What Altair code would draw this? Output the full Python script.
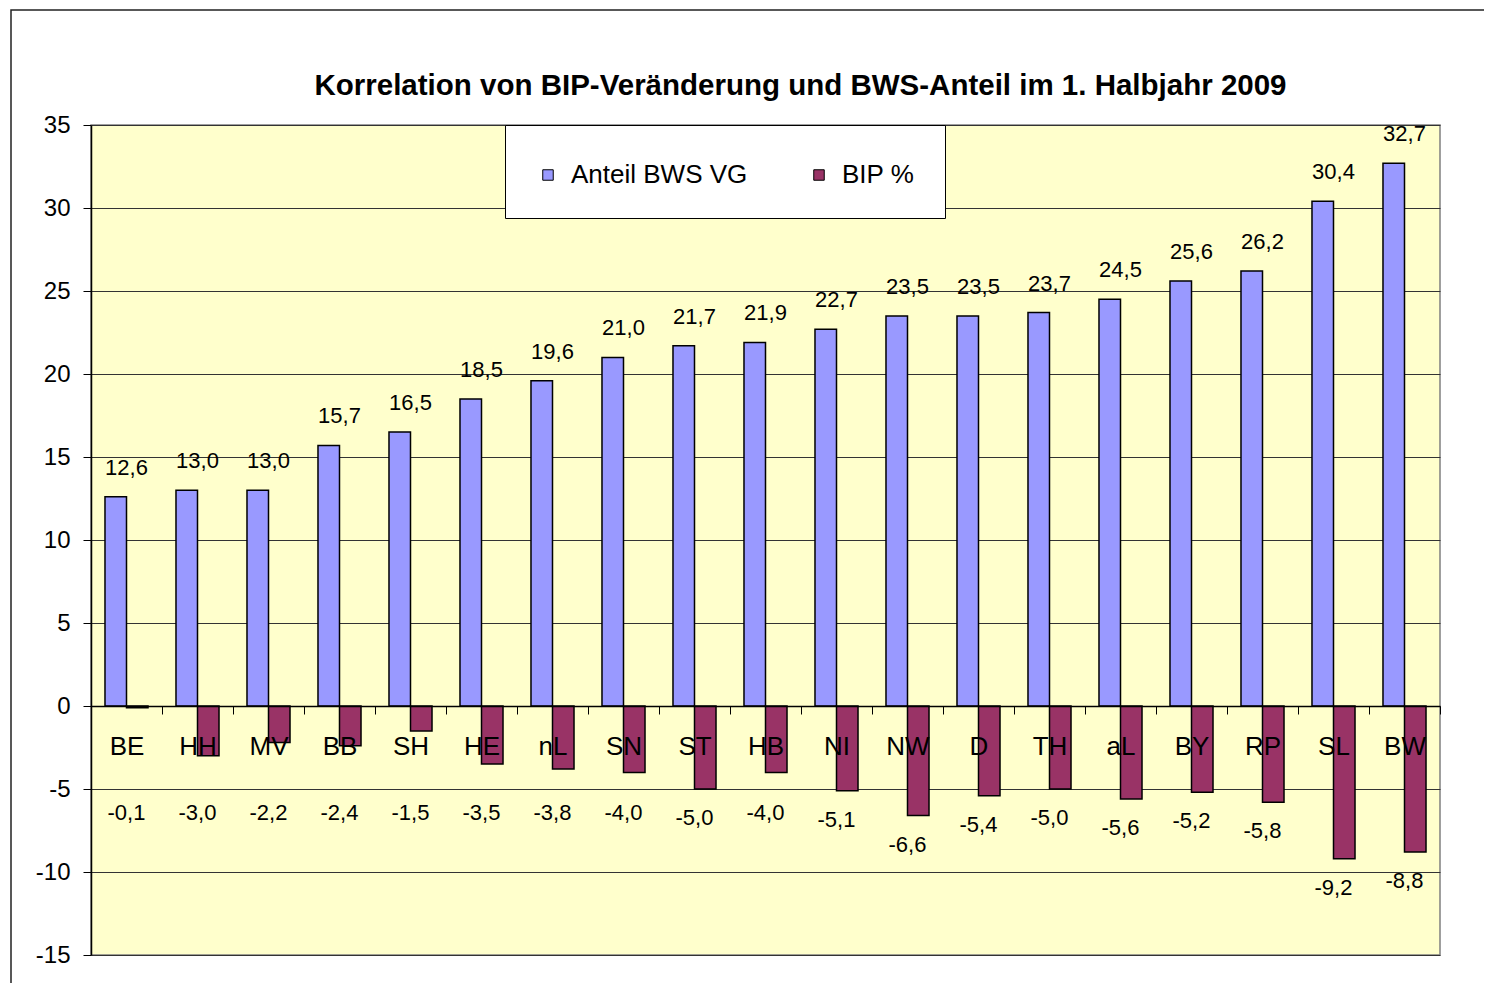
import altair as alt
import pandas as pd

# ---- data ----
states = ["BE", "HH", "MV", "BB", "SH", "HE", "nL", "SN", "ST", "HB",
          "NI", "NW", "D", "TH", "aL", "BY", "RP", "SL", "BW"]
bws_share = [12.6, 13.0, 13.0, 15.7, 16.5, 18.5, 19.6, 21.0, 21.7, 21.9,
             22.7, 23.5, 23.5, 23.7, 24.5, 25.6, 26.2, 30.4, 32.7]
bip_change = [-0.1, -3.0, -2.2, -2.4, -1.5, -3.5, -3.8, -4.0, -5.0, -4.0,
              -5.1, -6.6, -5.4, -5.0, -5.6, -5.2, -5.8, -9.2, -8.8]
series_names = ["Anteil BWS VG", "BIP %"]
series_colors = ["#9999FF", "#993366"]
y_ticks = [-15, -10, -5, 0, 5, 10, 15, 20, 25, 30, 35]
title_text = "Korrelation von BIP-Veränderung und BWS-Anteil im 1. Halbjahr 2009"

rows = []
for s, a, b in zip(states, bws_share, bip_change):
    rows.append({"state": s, "series": series_names[0], "value": a})
    rows.append({"state": s, "series": series_names[1], "value": b})
df = pd.DataFrame(rows)

FONT = "Liberation Sans"
W, H = 1349, 830
y_min, y_max = min(y_ticks), max(y_ticks)
zero_from_bottom = H * (0 - y_min) / (y_max - y_min)

x_axis = alt.Axis(title=None, orient="bottom", offset=-zero_from_bottom,
                  tickBand="extent", labelAngle=0, labelFontSize=26,
                  labelFont=FONT, labelColor="black", labelPadding=19,
                  tickSize=8, tickColor="black", tickWidth=1,
                  domainColor="black", domainWidth=1.5, zindex=1, grid=False)
x_scale = alt.Scale(paddingInner=0, paddingOuter=0)
y_axis = alt.Axis(title=None, values=y_ticks, grid=True, gridColor="#333333",
                  gridWidth=1, domainColor="black", domainWidth=1.5,
                  tickColor="black", tickSize=8, labelFontSize=24,
                  labelFont=FONT, labelColor="black", labelPadding=13,
                  labelExpr="replace(datum.label, '\u2212', '-')")
y_scale = alt.Scale(domain=[y_min, y_max], nice=False)

fmt = "replace(replace(format(datum.value, '.1f'), '.', ','), '\u2212', '-')"

bars = alt.Chart(df).mark_bar(stroke="black", strokeWidth=1.5).encode(
    x=alt.X("state:N", sort=states, scale=x_scale, axis=x_axis),
    xOffset=alt.XOffset("series:N", sort=series_names,
                        scale=alt.Scale(paddingInner=0, paddingOuter=0.65)),
    y=alt.Y("value:Q", scale=y_scale, axis=y_axis),
    color=alt.Color("series:N", sort=series_names,
                    scale=alt.Scale(domain=series_names, range=series_colors),
                    legend=alt.Legend(title=" ", titleFontSize=1,
                                      titlePadding=6,
                                      orient="none", legendX=414,
                                      legendY=0, direction="horizontal",
                                      fillColor="white", strokeColor="black",
                                      padding=30, symbolType="square",
                                      symbolSize=110, symbolStrokeColor="black",
                                      symbolStrokeWidth=1, symbolOpacity=1,
                                      labelFontSize=26, labelFont=FONT,
                                      labelColor="black", columnPadding=58,
                                      labelOffset=10, labelLimit=400)),
)

blue_text = alt.Chart(df).transform_filter(
    alt.datum.series == series_names[0]
).transform_calculate(label=fmt).mark_text(
    baseline="middle", dy=-29, fontSize=22, font=FONT, color="black"
).encode(
    x=alt.X("state:N", sort=states, scale=x_scale, axis=x_axis),
    y=alt.Y("value:Q", scale=y_scale, axis=y_axis),
    text="label:N",
)

red_text = alt.Chart(df).transform_filter(
    alt.datum.series == series_names[1]
).transform_calculate(
    label=fmt, ly="min(datum.value - 1.75, -6.45)"
).mark_text(
    baseline="middle", fontSize=22, font=FONT, color="black"
).encode(
    x=alt.X("state:N", sort=states, scale=x_scale, axis=x_axis),
    y=alt.Y("ly:Q", scale=y_scale, axis=y_axis),
    text="label:N",
)

frame = alt.Chart(alt.Data(values=[{"f": 1}])).mark_rect(
    filled=False, stroke="#222222", strokeWidth=1.5
).encode(
    x=alt.value(-80), x2=alt.value(W + 300),
    y=alt.value(-115), y2=alt.value(H + 300),
)

chart = alt.layer(frame, bars, blue_text, red_text).properties(
    width=W, height=H,
    title=alt.TitleParams(text=title_text, font=FONT, fontSize=29.5,
                          fontWeight="bold", color="black", anchor="middle",
                          dx=35, offset=-92),
    padding={"left": 83, "top": 117, "right": 44, "bottom": 28},
    autosize=alt.AutoSizeParams(type="none"),
).configure_view(fill="#FFFFCC", stroke="#808080", strokeWidth=1.5)

chart.save("out.html", embed_options={"renderer": "svg", "actions": False})
